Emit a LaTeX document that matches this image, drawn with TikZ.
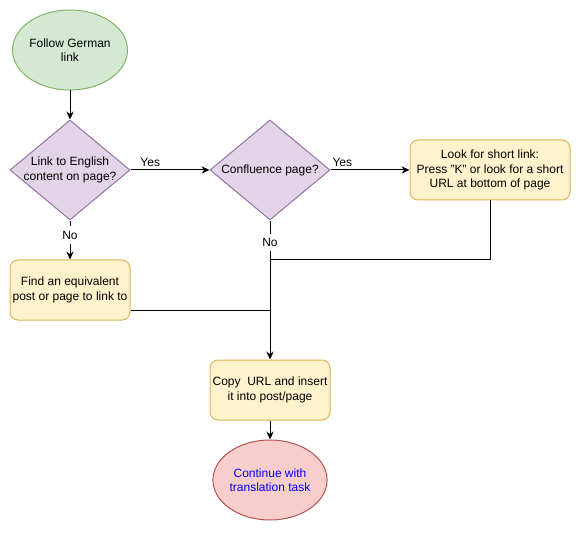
\documentclass[tikz,border=0pt]{standalone}
\usepackage{fontspec}
\setmainfont{Liberation Sans}
\usetikzlibrary{arrows.meta,shapes.geometric}
\definecolor{startfill}{HTML}{D5E8D4}
\definecolor{startline}{HTML}{82B366}
\definecolor{askfill}{HTML}{E1D5E7}
\definecolor{askline}{HTML}{9673A6}
\definecolor{stepfill}{HTML}{FFF2CC}
\definecolor{stepline}{HTML}{D6B656}
\definecolor{endfill}{HTML}{F8CECC}
\definecolor{endline}{HTML}{B85450}
\begin{document}
\begin{tikzpicture}[x=0.75pt,y=-0.75pt,font=\fontsize{9}{10.8}\selectfont,line width=0.75pt,
	>={Stealth[length=6pt,width=5.5pt,inset=2pt]},
	terminal/.style={ellipse,draw,align=center,minimum width=75pt,minimum height=60pt,inner sep=0pt},
	decision/.style={diamond,draw=askline,fill=askfill,minimum width=90pt,minimum height=75pt,inner sep=0pt},
	stepbox/.style={rectangle,rounded corners=6pt,draw=stepline,fill=stepfill,align=center,minimum width=90pt,minimum height=45pt,inner sep=0pt}]
		
		\useasboundingbox (0,0) rectangle (581,541);
		
		\node[terminal,draw=startline,fill=startfill] (start) at (70,50) {Follow German\\link};
		\node[decision,label={[align=center]center:Link to English\\content on page?}] (q1) at (70,170) {};
		\node[decision,label={center:Confluence page?}] (q2) at (270,170) {};
		\node[stepbox,minimum width=120pt] (look) at (490,170) {Look for short link:\\Press "K" or look for a short\\URL at bottom of page};
		\node[stepbox] (find) at (70,290) {Find an equivalent\\post or page to link to};
		\node[stepbox] (copy) at (270,390) {Copy\ \ URL and insert\\it into post/page};
		\node[terminal,draw=endline,fill=endfill,text=blue] (finish) at (270,480) {Continue with\\translation task};
		
		\coordinate (join) at (270,260);
		\coordinate (findout) at ([yshift=-15pt]find.east);
		
		\draw[->] (start) -- (q1);
		\draw[->] (q1) -- node[above,pos=0.25,inner sep=2pt] {Yes} (q2);
		\draw[->] (q2) -- node[above,pos=0.15,inner sep=2pt] {Yes} (look);
		\draw[->] (q1) -- node[fill=white,pos=0.375] {No} (find);
		\draw[->] (q2) -- node[fill=white,pos=0.16] {No} (copy);
		\draw (look) |- (join);
		\draw (findout) -- (findout -| copy.north);
		\draw[->] (copy) -- (finish);
		\end{tikzpicture}
\end{document}
